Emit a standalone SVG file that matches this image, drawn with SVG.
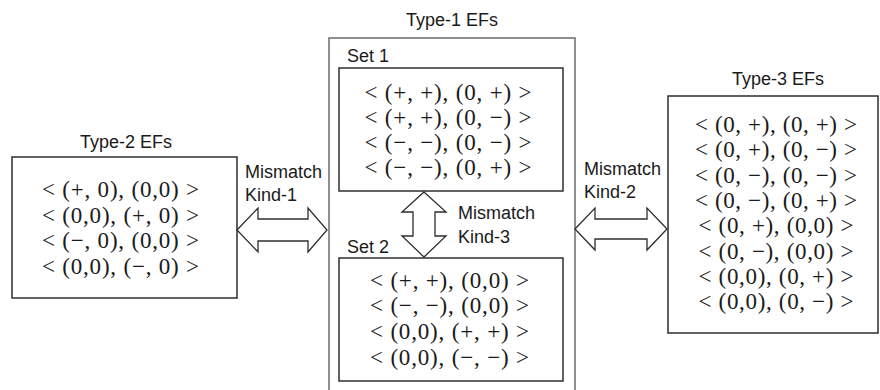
<svg xmlns="http://www.w3.org/2000/svg" width="880" height="390" viewBox="0 0 880 390">
<style>
.bg{fill:#ffffff}
.box{fill:#ffffff;stroke:#2e2e2e;stroke-width:1.5}
.outer{fill:#ffffff;stroke:#6a6a6a;stroke-width:1.5}
.lbl{font-family:"Liberation Sans",Arial,sans-serif;font-size:18px;fill:#1a1a1a}
.title{font-family:"Liberation Sans",Arial,sans-serif;font-size:18px;fill:#1a1a1a;text-anchor:middle}
.m{font-family:"Liberation Serif","Times New Roman",serif;font-size:23px;fill:#1a1a1a;text-anchor:middle}
.arr{fill:#ffffff;stroke:#2e2e2e;stroke-width:1.3;stroke-linejoin:miter}
</style>
<rect class="bg" x="0" y="0" width="880" height="390"/>

<g id="type2">
  <text class="title" x="126" y="148">Type-2 EFs</text>
  <rect class="box" x="12" y="157" width="225" height="141"/>
  <text class="m" x="120.5" y="197" textLength="157" lengthAdjust="spacing">&lt; (+, 0), (0,0) &gt;</text>
  <text class="m" x="120.5" y="222.5" textLength="157" lengthAdjust="spacing">&lt; (0,0), (+, 0) &gt;</text>
  <text class="m" x="120.5" y="248" textLength="157" lengthAdjust="spacing">&lt; (−, 0), (0,0) &gt;</text>
  <text class="m" x="120.5" y="273.5" textLength="157" lengthAdjust="spacing">&lt; (0,0), (−, 0) &gt;</text>
</g>

<g id="type1">
  <text class="title" x="452" y="26">Type-1 EFs</text>
  <rect class="outer" x="329" y="38" width="246" height="358"/>
</g>

<g id="set1">
  <text class="lbl" x="347" y="62">Set 1</text>
  <rect class="box" x="339" y="68" width="224" height="123"/>
  <text class="m" x="448" y="100" textLength="167" lengthAdjust="spacing">&lt; (+, +), (0, +) &gt;</text>
  <text class="m" x="448" y="125" textLength="167" lengthAdjust="spacing">&lt; (+, +), (0, −) &gt;</text>
  <text class="m" x="448" y="150" textLength="167" lengthAdjust="spacing">&lt; (−, −), (0, −) &gt;</text>
  <text class="m" x="448" y="175" textLength="167" lengthAdjust="spacing">&lt; (−, −), (0, +) &gt;</text>
</g>

<g id="set2">
  <text class="lbl" x="347" y="253">Set 2</text>
  <rect class="box" x="339" y="258" width="224" height="123"/>
  <text class="m" x="449.5" y="288" textLength="159" lengthAdjust="spacing">&lt; (+, +), (0,0) &gt;</text>
  <text class="m" x="449.5" y="313" textLength="159" lengthAdjust="spacing">&lt; (−, −), (0,0) &gt;</text>
  <text class="m" x="449.5" y="339" textLength="159" lengthAdjust="spacing">&lt; (0,0), (+, +) &gt;</text>
  <text class="m" x="449.5" y="365" textLength="159" lengthAdjust="spacing">&lt; (0,0), (−, −) &gt;</text>
</g>

<g id="type3">
  <text class="title" x="778" y="85">Type-3 EFs</text>
  <rect class="box" x="668" y="96" width="210" height="237"/>
  <text class="m" x="776" y="132" textLength="162" lengthAdjust="spacing">&lt; (0, +), (0, +) &gt;</text>
  <text class="m" x="776" y="157" textLength="162" lengthAdjust="spacing">&lt; (0, +), (0, −) &gt;</text>
  <text class="m" x="776" y="182.5" textLength="162" lengthAdjust="spacing">&lt; (0, −), (0, −) &gt;</text>
  <text class="m" x="776" y="208" textLength="162" lengthAdjust="spacing">&lt; (0, −), (0, +) &gt;</text>
  <text class="m" x="776" y="233" textLength="155" lengthAdjust="spacing">&lt; (0, +), (0,0) &gt;</text>
  <text class="m" x="776" y="258.5" textLength="155" lengthAdjust="spacing">&lt; (0, −), (0,0) &gt;</text>
  <text class="m" x="776" y="284" textLength="155" lengthAdjust="spacing">&lt; (0,0), (0, +) &gt;</text>
  <text class="m" x="776" y="309" textLength="155" lengthAdjust="spacing">&lt; (0,0), (0, −) &gt;</text>
</g>

<g id="connectors">
  <g id="kind1">
    <polygon class="arr" points="237,230 258,208 258,219 308,219 308,208 327,230 308,252 308,241 258,241 258,252"/>
    <text class="lbl" x="245" y="178">Mismatch</text>
    <text class="lbl" x="245" y="201">Kind-1</text>
  </g>
  <g id="kind2">
    <polygon class="arr" points="575,229 595,208 595,219 647,219 647,208 667,229 647,250 647,239 595,239 595,250"/>
    <text class="lbl" x="584" y="175">Mismatch</text>
    <text class="lbl" x="584" y="198">Kind-2</text>
  </g>
  <g id="kind3">
    <polygon class="arr" points="424,192 446,212 435,212 435,236 446,236 424,257 402,236 413,236 413,212 402,212"/>
    <text class="lbl" x="458" y="219">Mismatch</text>
    <text class="lbl" x="458" y="243">Kind-3</text>
  </g>
</g>
</svg>
